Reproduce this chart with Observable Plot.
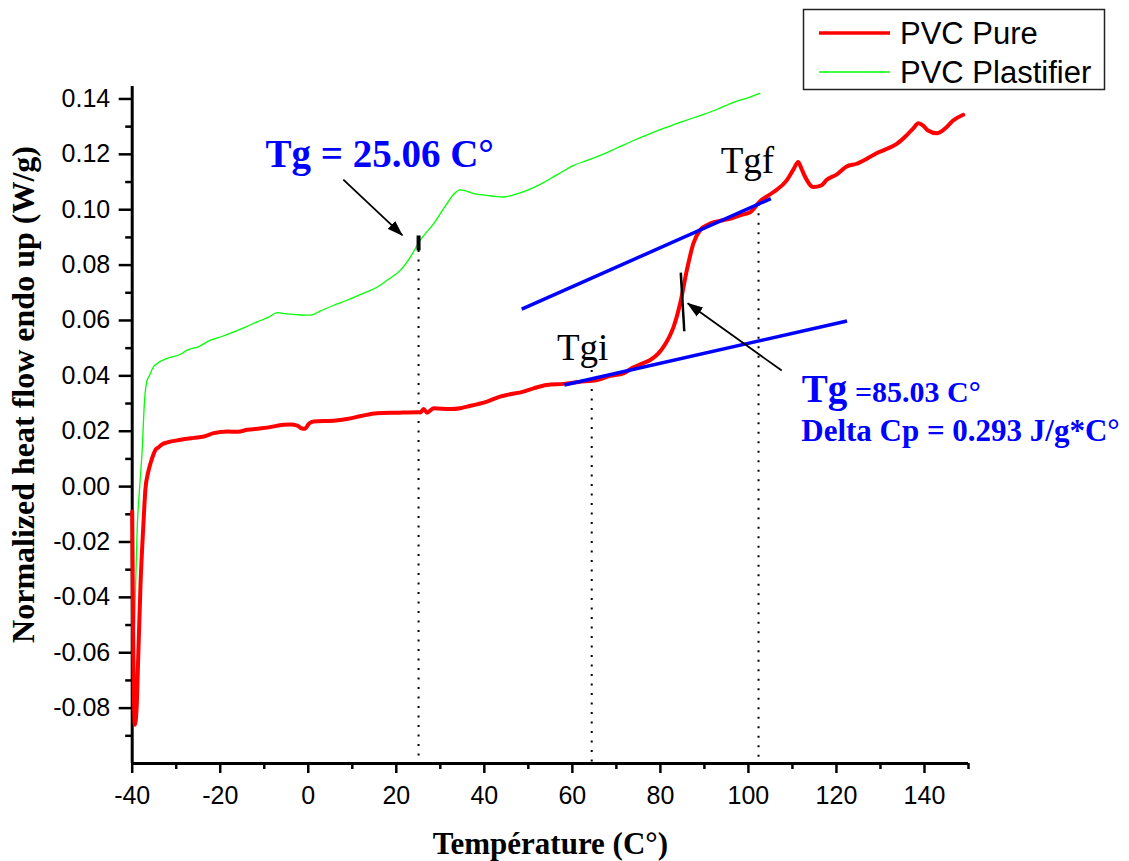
<!DOCTYPE html>
<html>
<head>
<meta charset="utf-8">
<script src="https://cdn.jsdelivr.net/npm/d3@7"></script>
<script src="https://cdn.jsdelivr.net/npm/@observablehq/plot@0.6"></script>
<style>
  html, body { margin: 0; padding: 0; background: #fff; }
  #chart { position: relative; width: 1129px; height: 861px; }
  #legend { position: absolute; left: 0; top: 0; pointer-events: none; }
</style>
</head>
<body>
<div id="chart"></div>
<script>
// DSC scans: temperature (°C) and normalized heat flow (W/g)
const pureT = [-40.0, -39.8, -39.4, -39.0, -38.6, -38.1, -37.5, -37.0, -36.4, -35.8, -35.2, -34.7, -34.0, -33.3, -32.0,
  -29.0, -26.0, -23.7, -21.5, -18.4, -16.0, -13.9, -11.0, -9.4, -5.6, -4.0, -2.5, -1.4, -0.8, 0.2, 1.2, 5.8, 8.8,
  12.0, 15.6, 20.0, 24.7, 25.5, 26.2, 27.0, 28.5, 32.3, 34.5, 36.1, 38.5, 40.6, 43.6, 45.1, 48.9, 51.2, 54.2, 58.0,
  61.5, 65.6, 68.6, 71.6, 73.9, 76.0, 77.7, 79.5, 80.7, 82.0, 83.0, 84.5, 86.0, 87.5, 89.0, 91.3, 94.3, 96.0, 98.1,
  100.4, 102.6, 105.7, 108.7, 110.2, 111.3, 112.0, 112.9, 114.7, 116.6, 117.8, 120.0, 122.3, 124.6, 127.0, 129.1,
  131.5, 133.7, 135.9, 137.5, 138.6, 139.7, 140.8, 142.8, 145.0, 146.5, 148.8];
const pureV = [-0.009, -0.050, -0.086, -0.080, -0.060, -0.035, -0.015, -0.001, 0.005, 0.0086, 0.0115, 0.0133, 0.0142,
  0.0152, 0.0160, 0.0169, 0.0176, 0.0181, 0.0193, 0.0199, 0.0198, 0.0205, 0.0210, 0.0213, 0.0223, 0.0224, 0.0220,
  0.0210, 0.0209, 0.0228, 0.0235, 0.0238, 0.0244, 0.0255, 0.0265, 0.0267, 0.0269, 0.0268, 0.0280, 0.0267, 0.0283,
  0.0280, 0.0283, 0.0289, 0.0298, 0.0307, 0.0325, 0.0331, 0.0343, 0.0355, 0.0367, 0.0371, 0.0378, 0.0385, 0.0400,
  0.0409, 0.0431, 0.0445, 0.0457, 0.0480, 0.0505, 0.0540, 0.0577, 0.0662, 0.0781, 0.0878, 0.0926, 0.0950, 0.0962,
  0.0968, 0.0980, 0.0991, 0.1030, 0.1064, 0.1106, 0.1145, 0.1172, 0.1150, 0.1118, 0.1082, 0.1088, 0.1108, 0.1127,
  0.1156, 0.1166, 0.1185, 0.1204, 0.1220, 0.1238, 0.1268, 0.1295, 0.1312, 0.1304, 0.1286, 0.1276, 0.1298, 0.1322,
  0.1343];

const plastT = [-40.0, -39.64, -39.3, -38.87, -38.3, -37.73, -37.2, -36.6, -36.2, -35.2, -34.3, -32.1, -29.0, -27.5,
  -25.0, -22.2, -19.5, -16.9, -14.0, -11.6, -9.0, -7.1, -5.5, -3.3, -1.0, 0.5, 2.7, 5.8, 8.8, 11.0, 13.3, 15.8, 17.9,
  20.9, 23.2, 25.4, 28.5, 31.5, 33.0, 34.5, 36.0, 37.6, 40.6, 42.5, 44.4, 47.0, 49.7, 52.5, 55.0, 57.7, 60.3, 63.3,
  66.3, 70.0, 73.9, 77.7, 81.5, 85.0, 89.0, 92.8, 96.6, 100.0, 102.6];
const plastV = [-0.035, -0.056, -0.040, -0.0155, 0.000, 0.0133, 0.031, 0.0385, 0.0397, 0.0432, 0.0445, 0.0463, 0.0478,
  0.0493, 0.0505, 0.0529, 0.0543, 0.0559, 0.0578, 0.0595, 0.0612, 0.0628, 0.0625, 0.0622, 0.0619, 0.0619, 0.0634,
  0.0655, 0.0673, 0.0688, 0.0703, 0.0722, 0.0745, 0.0781, 0.0829, 0.0889, 0.0950, 0.1022, 0.1055, 0.1072, 0.1067,
  0.1058, 0.1052, 0.1048, 0.1046, 0.1055, 0.1070, 0.1090, 0.1112, 0.1137, 0.1160, 0.1178, 0.1196, 0.1222, 0.1250,
  0.1275, 0.1298, 0.1318, 0.1340, 0.1362, 0.1388, 0.1405, 0.1420];

const seriesNames = ["PVC Pure", "PVC Plastifier"];
const seriesColors = ["#ff0000", "#00ff00"];

const xMajorTicks = [-40, -20, 0, 20, 40, 60, 80, 100, 120, 140];
const xMinorTicks = [-30, -10, 10, 30, 50, 70, 90, 110, 130, 150];
const yMajorTicks = [-0.08, -0.06, -0.04, -0.02, 0.00, 0.02, 0.04, 0.06, 0.08, 0.10, 0.12, 0.14];
const yMinorTicks = [-0.09, -0.07, -0.05, -0.03, -0.01, 0.01, 0.03, 0.05, 0.07, 0.09, 0.11, 0.13];

const xLabel = "Température (C°)";
const yLabel = "Normalized heat flow endo up (W/g)";

// Glass transition results
const tgPlast = 25.06;
const tgPure = 85.03;
const deltaCp = 0.293;
const tgiTemp = 64.4;
const tgfTemp = 102.3;
// Baseline tangents used for the onset / end construction
const tangentX1 = [48.5, 58.2];
const tangentY1 = [0.0641, 0.0367];
const tangentX2 = [105.1, 122.4];
const tangentY2 = [0.1040, 0.0598];

const xDomain = [-40, 150];
const yDomain = [-0.10, 0.1445];

const pure = pureT.map((t, i) => ({t, v: pureV[i]}));
const plast = plastT.map((t, i) => ({t, v: plastV[i]}));
const tangents = tangentX1.map((x1, i) => ({x1, y1: tangentY1[i], x2: tangentX2[i], y2: tangentY2[i]}));
const guides = [
  {t: tgPlast, top: 0.0853},
  {t: tgiTemp, top: 0.0419},
  {t: tgfTemp, top: 0.1020}
];

// filled triangular arrow head
function solidArrow(color) {
  const m = d3.create("svg:marker")
    .attr("viewBox", "0 -6 16 12")
    .attr("markerWidth", 16)
    .attr("markerHeight", 12)
    .attr("markerUnits", "userSpaceOnUse")
    .attr("refX", 15)
    .attr("refY", 0)
    .attr("orient", "auto");
  m.append("path").attr("d", "M0,-5.5L16,0L0,5.5Z").attr("fill", color).attr("stroke", "none");
  return m.node();
}

const serif = "'Liberation Serif', 'Times New Roman', serif";
const sans = "'Liberation Sans', Arial, sans-serif";
const blue = "#0000ff";

function build(arrowMarker) {
  return Plot.plot({
    width: 1129,
    height: 861,
    marginLeft: 131.7,
    marginRight: 161,
    marginTop: 86,
    marginBottom: 98,
    style: {fontFamily: sans, fontSize: "25px", color: "#000", background: "#fff", overflow: "visible"},
    x: {domain: xDomain, label: null},
    y: {domain: yDomain, label: null},
    marks: [
      // tick marks and labels
      Plot.axisX({ticks: xMinorTicks, tickSize: 6, tickFormat: () => "", strokeWidth: 2.5, label: null}),
      Plot.axisX({ticks: xMajorTicks, tickSize: 10, tickPadding: 13, strokeWidth: 2.5, fontSize: 25,
        tickFormat: (d) => String(d), label: null}),
      Plot.axisY({ticks: yMinorTicks, tickSize: 6.5, tickFormat: () => "", strokeWidth: 2.5, label: null}),
      Plot.axisY({ticks: yMajorTicks, tickSize: 13, tickPadding: 9, strokeWidth: 2.5, fontSize: 25,
        tickFormat: (d) => d.toFixed(2), label: null}),
      // axis lines
      Plot.ruleX([xDomain[0]], {y1: yDomain[0], y2: yDomain[1], strokeWidth: 3}),
      Plot.ruleY([yDomain[0]], {x1: xDomain[0], x2: xDomain[1], strokeWidth: 3}),
      // axis titles
      Plot.text([xLabel], {text: (d) => d, frameAnchor: "bottom", dy: 90, lineAnchor: "bottom",
        textAnchor: "middle", fontFamily: serif, fontWeight: "bold", fontSize: 31, fill: "#000"}),
      Plot.text([yLabel], {text: (d) => d, frameAnchor: "left", dx: -98.7, dy: -30.5, rotate: -90,
        textAnchor: "middle", lineAnchor: "bottom", fontFamily: serif, fontWeight: "bold", fontSize: 32,
        fill: "#000"}),
      // dotted guides at Tg, Tgi, Tgf
      Plot.ruleX(guides, {x: "t", y1: "top", y2: yDomain[0], stroke: "#000", strokeWidth: 2,
        strokeDasharray: "2,7.5"}),
      // curves
      Plot.line(plast, {x: "t", y: "v", stroke: seriesColors[1], strokeWidth: 1.3, curve: "monotone-x"}),
      Plot.line(pure, {x: "t", y: "v", stroke: seriesColors[0], strokeWidth: 4, curve: "monotone-x"}),
      // tangent construction
      Plot.link(tangents, {x1: "x1", y1: "y1", x2: "x2", y2: "y2", stroke: blue, strokeWidth: 3.5}),
      // Tg tick marks
      Plot.link([tgPlast], {x1: (d) => d, x2: (d) => d, y1: 0.0853, y2: 0.0907, stroke: "#000", strokeWidth: 4}),
      Plot.link([tgPure], {x1: (d) => d - 0.4, x2: (d) => d + 0.4, y1: 0.0773, y2: 0.0561, stroke: "#000",
        strokeWidth: 2.5}),
      // arrows
      Plot.link([0], {x1: 7.97, y1: 0.1109, x2: 21.36, y2: 0.0908, stroke: "#000", strokeWidth: 1.8,
        markerEnd: arrowMarker}),
      Plot.link([0], {x1: 107.56, y1: 0.0419, x2: 86.2, y2: 0.0662, stroke: "#000", strokeWidth: 1.8,
        markerEnd: arrowMarker}),
      // annotations
      Plot.text([tgPlast], {text: (d) => `Tg = ${d.toFixed(2)} C°`, x: -9.74, y: 0.1153, textAnchor: "start",
        lineAnchor: "bottom", fill: blue, fontFamily: serif, fontWeight: "bold", fontSize: 39}),
      Plot.text(["Tgi"], {text: (d) => d, x: 56.5, y: 0.0457, textAnchor: "start", lineAnchor: "bottom",
        fill: "#000", fontFamily: serif, fontSize: 37}),
      Plot.text(["Tgf"], {text: (d) => d, x: 93.7, y: 0.1132, textAnchor: "start", lineAnchor: "bottom",
        fill: "#000", fontFamily: serif, fontSize: 37}),
      Plot.text(["Tg"], {text: (d) => d, x: 112.1, y: 0.0307, textAnchor: "start", lineAnchor: "bottom",
        fill: blue, fontFamily: serif, fontWeight: "bold", fontSize: 39}),
      Plot.text([tgPure], {text: (d) => `=${d.toFixed(2)} C°`, x: 124.2, y: 0.0307, textAnchor: "start",
        lineAnchor: "bottom", fill: blue, fontFamily: serif, fontWeight: "bold", fontSize: 30}),
      Plot.text([deltaCp], {text: (d) => `Delta Cp = ${d.toFixed(3)} J/g*C°`, x: 112.0, y: 0.0163,
        textAnchor: "start", lineAnchor: "bottom", fill: blue, fontFamily: serif, fontWeight: "bold", fontSize: 31})
    ]
  });
}

let chart;
try {
  chart = build(solidArrow);
} catch (e) {
  chart = build("arrow");
}
const host = document.getElementById("chart");
host.appendChild(chart);

// legend box
const legend = d3.select(host).append("svg")
  .attr("id", "legend")
  .attr("width", 1129)
  .attr("height", 100);
legend.append("rect")
  .attr("x", 803.5).attr("y", 9.5).attr("width", 301).attr("height", 80)
  .attr("fill", "#fff").attr("stroke", "#222").attr("stroke-width", 1.5);
const rows = legend.selectAll("g.row").data(seriesNames).join("g").attr("class", "row")
  .attr("transform", (d, i) => `translate(0,${i === 0 ? 33 : 72})`);
rows.append("line")
  .attr("x1", 819).attr("x2", 890).attr("y1", 0).attr("y2", 0)
  .attr("stroke", (d, i) => seriesColors[i])
  .attr("stroke-width", (d, i) => i === 0 ? 3.5 : 1.3);
rows.append("text")
  .attr("x", 900).attr("y", 11)
  .attr("font-family", sans).attr("font-size", 31).attr("fill", "#000")
  .text((d) => d);
</script>
</body>
</html>
